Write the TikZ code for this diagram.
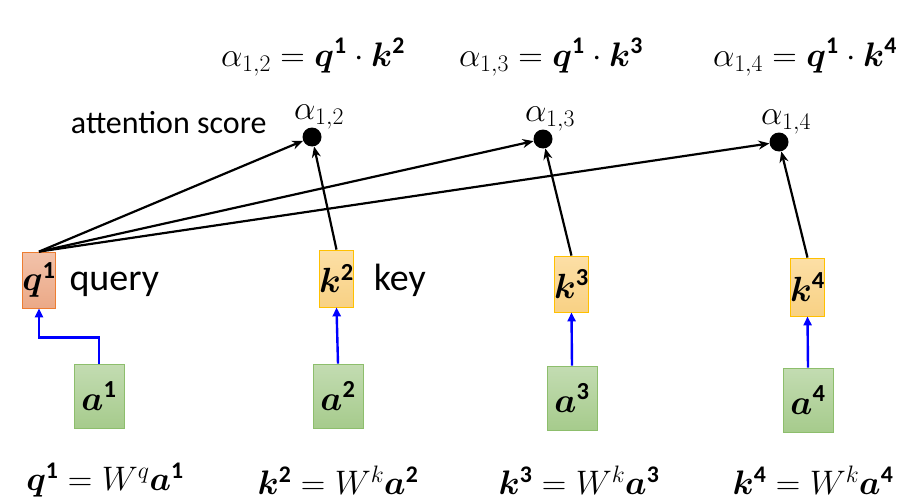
\RequirePackage{fix-cm}
\documentclass[tikz,border=0pt]{standalone}
\usepackage{amsmath, bm}
\usepackage{fontspec}
\setmainfont{Carlito}
\usetikzlibrary{positioning, arrows.meta}

\definecolor{qedge}{HTML}{ED7D31}
\definecolor{qtop}{HTML}{F2C2AA}
\definecolor{qbot}{HTML}{EBA987}
\definecolor{kedge}{HTML}{FFC000}
\definecolor{ktop}{HTML}{FCDFA6}
\definecolor{kbot}{HTML}{F8D184}
\definecolor{aedge}{HTML}{8DBE6C}
\definecolor{atop}{HTML}{C3DCB2}
\definecolor{abot}{HTML}{A6CB8C}

\newcommand{\bv}[2]{\bm{#1}^{\mathbf{#2}}}

\tikzset{
    vecbox/.style={line width=0.8pt, inner sep=0pt, minimum width=31pt, minimum height=57pt,
        font=\fontsize{35}{40}\selectfont},
    qbox/.style={vecbox, draw=qedge, top color=qtop, bottom color=qbot},
    kbox/.style={vecbox, draw=kedge, top color=ktop, bottom color=kbot},
    abox/.style={vecbox, draw=aedge, top color=atop, bottom color=abot, minimum width=50pt, minimum height=64pt},
    scoredot/.style={circle, fill=black, inner sep=0pt, minimum size=19pt},
    scorearrow/.style={line width=2.2pt, -{Stealth[length=11pt, width=9pt]}},
    projarrow/.style={line width=2.4pt, blue, -{Triangle[length=9pt, width=8pt]}},
    formula/.style={font=\fontsize{34}{40}\selectfont},
    tag/.style={font=\fontsize{38}{44}\selectfont}
}

\begin{document}
\begin{tikzpicture}[x=1pt, y=-1pt, font=\fontsize{32}{38}\selectfont]
    \useasboundingbox (0, 0) rectangle (912, 500);

    % input vectors
    \node[abox] (a1) at (99, 396) {$\bv{a}{1}$};
    \node[abox] (a2) at (338, 396) {$\bv{a}{2}$};
    \node[abox] (a3) at (572, 398) {$\bv{a}{3}$};
    \node[abox] (a4) at (808, 400) {$\bv{a}{4}$};

    % query and keys
    \node[qbox, minimum width=30pt, minimum height=56pt] (q1) at (39, 280) {$\bv{q}{1}$};
    \node[kbox] (k2) at (336.5, 278.5) {$\bv{k}{2}$};
    \node[kbox, minimum height=56pt] (k3) at (571.5, 284) {$\bv{k}{3}$};
    \node[kbox, minimum height=58pt] (k4) at (807.5, 287) {$\bv{k}{4}$};

    \node[tag, right=10pt of q1, yshift=-4pt] (querytxt) {query};
    \node[tag, right=16pt of k2, yshift=-2pt] (keytxt) {key};

    % attention scores
    \node[scoredot] (d12) at (312, 137) {};
    \node[scoredot] (d13) at (543, 139) {};
    \node[scoredot] (d14) at (779, 142) {};
    \node[formula, above=-2pt of d12, xshift=7pt, inner sep=0pt] (l12) {$\alpha_{1,2}$};
    \node[formula, above=-2pt of d13, xshift=7pt, inner sep=0pt] (l13) {$\alpha_{1,3}$};
    \node[formula, above=-2pt of d14, xshift=7pt, inner sep=0pt] (l14) {$\alpha_{1,4}$};
    \node[anchor=east] (scoretxt) at (270, 123) {attention score};

    % W a products
    \draw[projarrow] (a1.north) -- ++(0, -26) -| (q1.south);
    \draw[projarrow] (a2.north) -- (k2.south);
    \draw[projarrow] (a3.north) -- (k3.south);
    \draw[projarrow] (a4.north) -- (k4.south);

    % dot products
    \foreach \j in {2, 3, 4} {
        \draw[scorearrow] (q1.north) -- (d1\j);
        \draw[scorearrow] (k\j.north) -- (d1\j);
    }

    % formulas
    \node[formula] (f12) at (313, 57) {$\alpha_{1,2} = \bv{q}{1} \cdot \bv{k}{2}$};
    \node[formula] (f13) at (551, 57) {$\alpha_{1,3} = \bv{q}{1} \cdot \bv{k}{3}$};
    \node[formula] (f14) at (805, 57) {$\alpha_{1,4} = \bv{q}{1} \cdot \bv{k}{4}$};
    \node[formula] (g1) at (105, 480) {$\bv{q}{1} = W^{q}\bv{a}{1}$};
    \node[formula] (g2) at (338, 480) {$\bv{k}{2} = W^{k}\bv{a}{2}$};
    \node[formula] (g3) at (579, 480) {$\bv{k}{3} = W^{k}\bv{a}{3}$};
    \node[formula] (g4) at (813, 480) {$\bv{k}{4} = W^{k}\bv{a}{4}$};
\end{tikzpicture}
\end{document}
